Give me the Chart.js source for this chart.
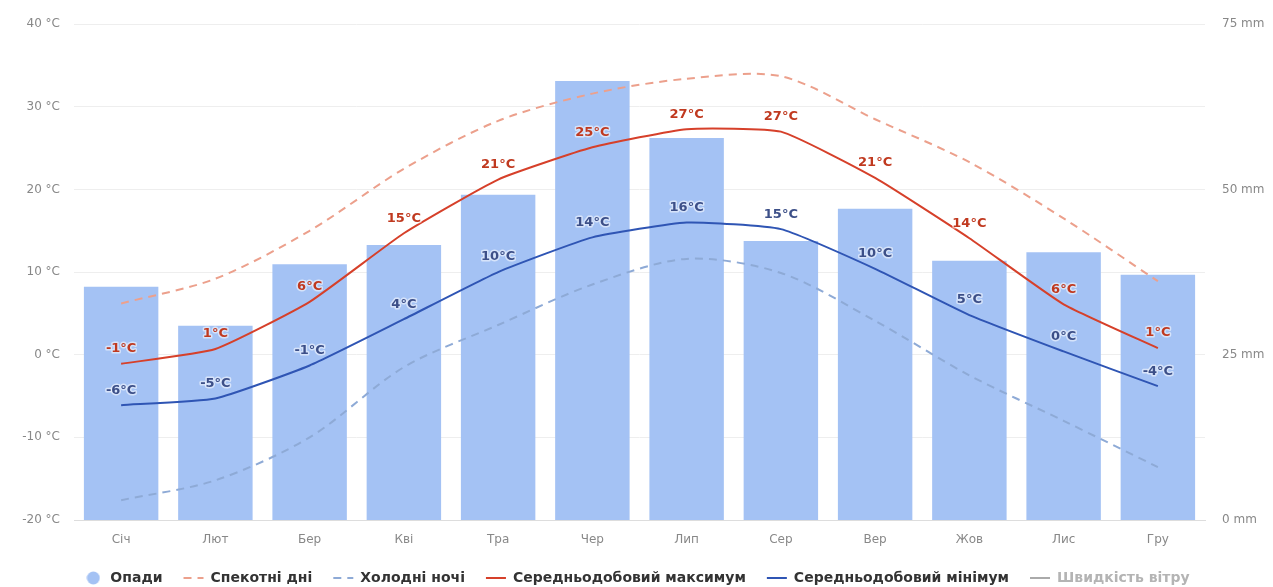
<!DOCTYPE html>
<html>
<head>
<meta charset="utf-8">
<script src="https://cdn.jsdelivr.net/npm/chart.js@4.4.0/dist/chart.umd.min.js"></script>
<style>
  html, body { margin: 0; padding: 0; background: #fff; }
  #wrap { width: 1273px; height: 587px; }
</style>
</head>
<body>
<div id="wrap"><canvas id="climateChart"></canvas></div>
<script>
const months = ['Січ', 'Лют', 'Бер', 'Кві', 'Тра', 'Чер', 'Лип', 'Сер', 'Вер', 'Жов', 'Лис', 'Гру'];
const precipitation = [35.3, 29.4, 38.7, 41.6, 49.2, 66.4, 57.8, 42.2, 47.1, 39.2, 40.5, 37.1];
const hotDays = [6.2, 9.2, 15.0, 22.5, 28.3, 31.6, 33.4, 33.7, 28.5, 23.3, 16.5, 8.9];
const coldNights = [-17.6, -15.2, -10.0, -1.5, 3.6, 8.5, 11.6, 9.9, 4.1, -2.5, -8.0, -13.6];
const avgMax = [-1.1, 0.7, 6.4, 14.7, 21.2, 25.1, 27.3, 27.0, 21.4, 14.1, 6.1, 0.8];
const avgMin = [-6.1, -5.3, -1.3, 4.3, 10.0, 14.2, 16.0, 15.2, 10.4, 4.8, 0.4, -3.8];
const windSpeed = [];

const FONT = 'DejaVu Sans';

// round marker for the precipitation legend item
const dot = document.createElement('canvas');
dot.width = 14; dot.height = 14;
const dctx = dot.getContext('2d');
dctx.fillStyle = '#a4c2f4';
dctx.beginPath();
dctx.arc(7, 7, 6.5, 0, Math.PI * 2);
dctx.fill();

// value labels above the average lines
const pointLabels = {
  id: 'pointLabels',
  afterDatasetsDraw(chart) {
    const ctx = chart.ctx;
    chart.data.datasets.forEach((ds, i) => {
      if (!ds.labelColor) return;
      const meta = chart.getDatasetMeta(i);
      ctx.save();
      ctx.font = 'bold 13px "' + FONT + '"';
      ctx.textAlign = 'center';
      ctx.textBaseline = 'middle';
      ctx.lineWidth = 3;
      ctx.lineJoin = 'round';
      ctx.strokeStyle = 'rgba(255,255,255,0.55)';
      ctx.fillStyle = ds.labelColor;
      meta.data.forEach((pt, j) => {
        const text = Math.round(ds.data[j]) + '°C';
        ctx.strokeText(text, pt.x, pt.y - 15);
        ctx.fillText(text, pt.x, pt.y - 15);
      });
      ctx.restore();
    });
  }
};

// push the legend a bit lower
const legendHeight = {
  id: 'legendHeight',
  beforeInit(chart) {
    const fit = chart.legend.fit;
    chart.legend.fit = function () {
      fit.bind(chart.legend)();
      this.height = 37;
    };
  }
};

const ctx = document.getElementById('climateChart').getContext('2d');
const climateChart = new Chart(ctx, {
  data: {
    labels: months,
    datasets: [
      {
        type: 'bar',
        label: 'Опади',
        data: precipitation,
        yAxisID: 'y1',
        backgroundColor: '#a4c2f4',
        barPercentage: 0.79,
        categoryPercentage: 1,
        order: 1
      },
      {
        type: 'line',
        label: 'Спекотні дні',
        data: hotDays,
        yAxisID: 'y',
        borderColor: '#eca08c',
        borderWidth: 2,
        borderDash: [8, 6],
        pointRadius: 0,
        tension: 0.3,
        order: 0
      },
      {
        type: 'line',
        label: 'Холодні ночі',
        data: coldNights,
        yAxisID: 'y',
        borderColor: '#8eaad6',
        borderWidth: 2,
        borderDash: [8, 6],
        pointRadius: 0,
        tension: 0.3,
        order: 0
      },
      {
        type: 'line',
        label: 'Середньодобовий максимум',
        data: avgMax,
        yAxisID: 'y',
        borderColor: '#d6402a',
        borderWidth: 2,
        pointRadius: 0,
        tension: 0.15,
        labelColor: '#c0391f',
        order: 0
      },
      {
        type: 'line',
        label: 'Середньодобовий мінімум',
        data: avgMin,
        yAxisID: 'y',
        borderColor: '#2f55b4',
        borderWidth: 2,
        pointRadius: 0,
        tension: 0.15,
        labelColor: '#3c4f88',
        order: 0
      },
      {
        type: 'line',
        label: 'Швидкість вітру',
        data: windSpeed,
        yAxisID: 'y',
        borderColor: '#aaaaaa',
        borderWidth: 2,
        pointRadius: 0,
        legendText: '#b4b4b4',
        order: 0
      }
    ]
  },
  options: {
    responsive: true,
    maintainAspectRatio: false,
    animation: false,
    layout: { padding: { top: 21, left: 0, right: 0, bottom: 0 } },
    plugins: {
      tooltip: { enabled: false },
      legend: {
        position: 'bottom',
        labels: {
          usePointStyle: true,
          pointStyleWidth: 20,
          boxHeight: 12,
          padding: 21,
          color: '#333',
          font: { family: FONT, size: 14, weight: 'bold' },
          generateLabels(chart) {
            return chart.data.datasets.map((ds, i) => ({
              text: ds.label,
              datasetIndex: i,
              fillStyle: ds.type === 'bar' ? ds.backgroundColor : 'transparent',
              strokeStyle: ds.type === 'bar' ? 'transparent' : ds.borderColor,
              lineWidth: 2,
              lineDash: ds.borderDash || [],
              pointStyle: ds.type === 'bar' ? dot : 'line',
              fontColor: ds.legendText || '#333',
              hidden: false
            }));
          }
        }
      }
    },
    scales: {
      x: {
        grid: { display: false, drawTicks: false },
        border: { display: true, color: '#dddddd' },
        ticks: { color: '#888', padding: 13, font: { family: FONT, size: 12 } },
        afterFit(scale) { scale.height = 30; }
      },
      y: {
        position: 'left',
        min: -20,
        max: 40,
        grid: { color: '#eeeeee', drawTicks: false },
        border: { display: false },
        ticks: {
          stepSize: 10,
          color: '#888',
          padding: 14,
          font: { family: FONT, size: 12 },
          callback: v => v + ' °C'
        },
        afterFit(scale) { scale.width = 74; }
      },
      y1: {
        position: 'right',
        min: 0,
        max: 75,
        grid: { display: false, drawTicks: false },
        border: { display: false },
        ticks: {
          stepSize: 25,
          color: '#888',
          padding: 17,
          font: { family: FONT, size: 12 },
          callback: v => v + ' mm'
        },
        afterFit(scale) { scale.width = 68; }
      }
    }
  },
  plugins: [pointLabels, legendHeight]
});
</script>
</body>
</html>
